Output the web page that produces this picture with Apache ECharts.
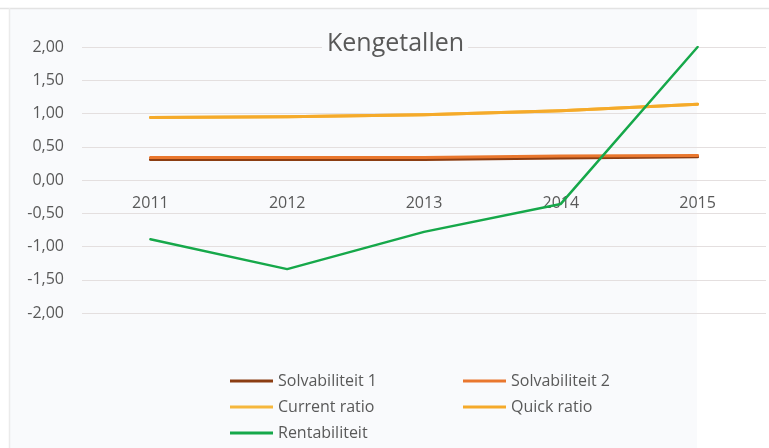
<!DOCTYPE html>
<html>
<head>
<meta charset="utf-8">
<script src="https://cdn.jsdelivr.net/npm/echarts@6/dist/echarts.min.js"></script>
<style>
  html, body { margin: 0; padding: 0; background: #ffffff; }
  #chart { width: 769px; height: 448px; }
</style>
</head>
<body>
<div id="chart"></div>
<script>
// Years on the category axis
const years = ['2011', '2012', '2013', '2014', '2015'];

// Key ratios per year
const solvabiliteit1 = [0.31, 0.31, 0.31, 0.33, 0.35];
const solvabiliteit2 = [0.34, 0.34, 0.34, 0.36, 0.37];
const currentRatio   = [0.94, 0.95, 0.98, 1.04, 1.14];
const quickRatio     = [0.94, 0.95, 0.98, 1.04, 1.14];
const rentabiliteit  = [-0.89, -1.34, -0.78, -0.36, 2.00];

// Value axis range and step
const yMin = -2;
const yMax = 2;
const yStep = 0.5;

const FONT = '"Open Sans", "Liberation Sans", sans-serif';
const TEXT = '#595959';
const GRID = '#e4dfdf';
const PANEL = '#f9fafc';

// Plot area
const GRID_TOP = 47;
const GRID_BOTTOM = 135;
const PLOT_H = 448 - GRID_TOP - GRID_BOTTOM;
// Shift the year labels up so they sit just under the zero line
const zeroOffset = -PLOT_H * (0 - yMin) / (yMax - yMin);

const chart = echarts.init(document.getElementById('chart'), null, { renderer: 'canvas' });

function line(name, data, color, width, z) {
  return {
    name: name,
    type: 'line',
    data: data,
    symbol: 'none',
    z: z,
    lineStyle: { color: color, width: width, cap: 'round', join: 'round' },
    itemStyle: { color: color },
    emphasis: { disabled: true },
    animation: false
  };
}

const legendText = { color: TEXT, fontSize: 16, fontFamily: FONT, lineHeight: 16 };
const legendBase = {
  orient: 'vertical',
  top: 373,
  padding: 0,
  height: 75,
  icon: 'rect',
  itemWidth: 43,
  itemHeight: 3,
  itemGap: 10,
  textStyle: legendText
};

chart.setOption({
  backgroundColor: '#ffffff',
  animation: false,
  graphic: [
    { type: 'rect', z: -10, silent: true, shape: { x: 9, y: 8, width: 688, height: 440 }, style: { fill: PANEL } },
    { type: 'line', z: -9, silent: true, shape: { x1: 0, y1: 8.5, x2: 769, y2: 8.5 }, style: { stroke: '#e3e3e3', lineWidth: 1.5 } },
    { type: 'line', z: -9, silent: true, shape: { x1: 9.5, y1: 8, x2: 9.5, y2: 448 }, style: { stroke: '#ebebeb', lineWidth: 1.5 } }
  ],
  title: {
    text: 'Kengetallen',
    left: 322,
    top: 29,
    padding: [2, 4, 2, 5],
    backgroundColor: PANEL,
    textStyle: { color: TEXT, fontSize: 25, fontWeight: 'normal', fontFamily: FONT }
  },
  legend: [
    Object.assign({}, legendBase, {
      data: ['Solvabiliteit 1', 'Current ratio', 'Rentabiliteit'],
      left: 230
    }),
    Object.assign({}, legendBase, {
      data: ['Solvabiliteit 2', 'Quick ratio'],
      left: 463
    })
  ],
  grid: { left: 82, right: 3, top: GRID_TOP, bottom: GRID_BOTTOM, containLabel: false },
  xAxis: {
    type: 'category',
    data: years,
    boundaryGap: true,
    offset: zeroOffset,
    axisTick: { show: false },
    axisLine: { show: false, onZero: false },
    axisLabel: { color: TEXT, fontSize: 16, fontFamily: FONT, margin: 15 },
    splitLine: { show: false }
  },
  yAxis: {
    type: 'value',
    min: yMin,
    max: yMax,
    interval: yStep,
    axisLine: { show: false },
    axisTick: { show: false },
    axisLabel: {
      color: TEXT, fontSize: 16, fontFamily: FONT, margin: 18,
      formatter: v => v.toFixed(2).replace('.', ',')
    },
    splitLine: { lineStyle: { color: GRID, width: 1 } }
  },
  series: [
    line('Solvabiliteit 1', solvabiliteit1, '#8b3d12', 3, 2),
    line('Solvabiliteit 2', solvabiliteit2, '#e9772e', 3, 3),
    line('Current ratio', currentRatio, '#f6b73c', 3, 4),
    line('Quick ratio', quickRatio, '#f5aa2a', 3, 5),
    line('Rentabiliteit', rentabiliteit, '#16a84a', 2.5, 6)
  ]
});
</script>
</body>
</html>
